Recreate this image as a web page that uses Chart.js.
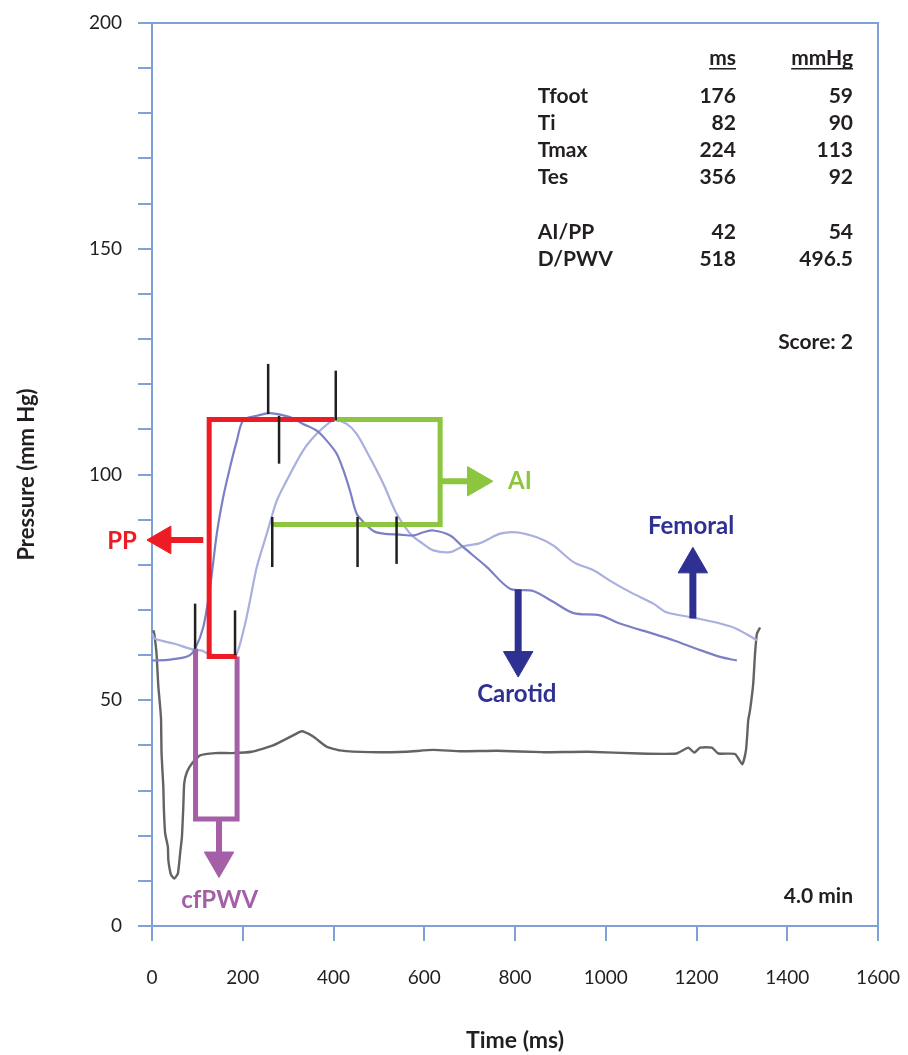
<!DOCTYPE html>
<html><head><meta charset="utf-8">
<script src="https://cdn.jsdelivr.net/npm/chart.js@4.4.1/dist/chart.umd.min.js"></script>
<style>html,body{margin:0;padding:0;background:#fff}#wrap{width:908px;height:1055px}</style>
</head><body><div id="wrap"><canvas id="c" width="908" height="1055"></canvas></div>
<script>
// ---------- data (ms, mmHg) ----------
const carotidTime = [0,40,80,95,113,128,143,157,172,187,201,231,260,304,333,363,385,407,422,436,451,466,488,510,547,576,598,620,657,686,738,789,840,884,929,987,1031,1105,1149,1200,1252,1289];
const carotidPressure = [58.8,59.0,59.8,61.4,66.2,75,87,95,101.6,107.5,112,113,113.6,112.7,111.2,109.7,107.5,104.6,100.9,96.5,91.3,89.5,87.5,86.9,86.7,86.5,87.2,87.6,86.5,83.9,79.5,74.7,74.2,71.8,69.3,68.8,67.0,64.7,63.3,61.4,59.6,58.8];

const femoralTime = [0,7,50,91,110,124,160,183,203,216,231,253,275,297,333,363,392,403,429,451,480,510,539,569,598,620,657,686,723,767,804,848,884,929,973,1009,1053,1105,1134,1193,1252,1289,1333];
const femoralPressure = [64.8,63.6,62.5,61.2,61.0,60.3,59.8,59.6,66.0,72.1,79.5,86.9,94.2,98.7,105.3,109,111.6,112.1,111.2,109,103.8,97.9,91.3,86.9,84.6,83.2,82.8,84.1,84.8,86.9,87.2,86.1,84.3,80.6,78.8,76.5,74.0,71.4,69.5,68.3,67.0,65.8,63.3];

const traceTime = [3,5,10,14,18,20,21,25,26,29,35,36,42,49,57,62,66,69,71,77,88,106,139,176,220,267,326,333,356,385,414,480,560,620,680,760,860,960,1075,1156,1182,1195,1208,1234,1248,1285,1301,1309,1312,1314,1318,1325,1329,1333,1340];
const tracePressure = [65.5,64.7,60.3,53,48.5,45.6,38.2,30.8,26.4,20.5,17.5,14.6,11.3,10.5,11.6,16.1,19.8,26.4,31.6,34.1,36,37.8,38.3,38.3,38.6,40,43,43.1,41.9,39.7,38.9,38.5,38.6,39.0,38.7,38.8,38.5,38.6,38.2,38.2,39.5,38.4,39.5,39.5,38.2,38.1,35.8,38.9,42.6,45.6,47.8,53.7,60.3,64.7,66.1];

// timing markers (short vertical bars)
const markerTime = [95,183,256,280,405,265,453,539];
const markerLow  = [61.4,60.0,113.4,102.4,112.0,79.5,79.5,80.2];
const markerHigh = [71.4,69.9,124.5,113.0,123.0,90.6,90.6,90.7];

// brackets
const ppBracketTime = [402,126,126,187];
const ppBracketPressure = [112.2,112.2,59.7,59.7];
const aiBracketTime = [407,635,635,266];
const aiBracketPressure = [112.2,112.2,88.9,88.9];
const pwvBracketTime = [96,96,187.5,187.5];
const pwvBracketPressure = [61.4,23.7,23.7,59.7];

// arrows: shaft start and head centre
const arrowNames = ['PP','AI','cfPWV','Carotid','Femoral'];
const arrowStartTime = [113,635,147.7,807,1192];
const arrowStartPressure = [85.5,98.5,23.7,74.6,68.1];
const arrowHeadTime = [24,714,147.7,807,1192];
const arrowHeadPressure = [85.5,98.5,14.5,58.9,80.1];

// annotation labels
const labelText = ['PP','AI','Carotid','Femoral','cfPWV'];
const labelTime = [-66,811,804,1188,149];
const labelPressure = [85.2,98.6,51.4,88.6,5.8];

// results table
const tableHeader = ['ms','mmHg'];
const tableLabels = ['Tfoot','Ti','Tmax','Tes','','AI/PP','D/PWV'];
const tableMs = ['176','82','224','356','','42','518'];
const tableMmHg = ['59','90','113','92','','54','496.5'];
const scoreText = 'Score: 2';
const durationText = '4.0 min';

const xTickStep = 200, yTickStep = 10, yLabelStep = 50;

// ---------- styles ----------
const AXIS = '#80a0d8';
const TXT = '#231f20';
const FONT = 'Lato, "Open Sans", sans-serif';
const C = {carotid:'#7b80c5', femoral:'#a9afde', trace:'#626365', red:'#ed1c24', green:'#8cc63f', purple:'#a55fa7', navy:'#2e3192', mark:'#231f20'};
const arrowStyle = {
  PP:{color:C.red,rot:270,w:6,r:16},
  AI:{color:C.green,rot:90,w:6,r:17},
  cfPWV:{color:C.purple,rot:180,w:6,r:17},
  Carotid:{color:C.navy,rot:180,w:7,r:17},
  Femoral:{color:C.navy,rot:0,w:7,r:17}
};
const labelColor = {PP:C.red,AI:C.green,Carotid:C.navy,Femoral:C.navy,cfPWV:C.purple};

const pts = (xs, ys) => xs.map((x,i)=>({x, y: ys[i]}));
const lineDs = (data, color, w, extra) => Object.assign({data, showLine:true, borderColor:color, backgroundColor:color, borderWidth:w, pointRadius:0, clip:false, borderCapStyle:'butt', borderJoinStyle:'miter', tension:0}, extra||{});

const datasets = [];
markerTime.forEach((t,i)=>datasets.push(lineDs([{x:t,y:markerLow[i]},{x:t,y:markerHigh[i]}], C.mark, 2.5)));
arrowNames.forEach((n,i)=>{
  const s = arrowStyle[n];
  datasets.push({data:[{x:arrowHeadTime[i],y:arrowHeadPressure[i]}], showLine:false, pointStyle:'triangle', pointRotation:s.rot, pointRadius:s.r, pointBackgroundColor:s.color, pointBorderColor:s.color, pointBorderWidth:1, clip:false});
  datasets.push(lineDs([{x:arrowStartTime[i],y:arrowStartPressure[i]},{x:arrowHeadTime[i],y:arrowHeadPressure[i]}], s.color, s.w));
});
datasets.push(lineDs(pts(ppBracketTime, ppBracketPressure), C.red, 5));
datasets.push(lineDs(pts(aiBracketTime, aiBracketPressure), C.green, 5));
datasets.push(lineDs(pts(pwvBracketTime, pwvBracketPressure), C.purple, 5));
datasets.push(lineDs(pts(carotidTime, carotidPressure), C.carotid, 2.2, {tension:0.3, borderJoinStyle:'round'}));
datasets.push(lineDs(pts(femoralTime, femoralPressure), C.femoral, 2.2, {tension:0.3, borderJoinStyle:'round'}));
datasets.push(lineDs(pts(traceTime, tracePressure), C.trace, 2.4, {tension:0.15, borderJoinStyle:'round'}));

const overlay = {
  id:'overlay',
  afterDraw(chart){
    const {ctx, chartArea:a, scales:{x,y}} = chart;
    ctx.save();
    ctx.strokeStyle = AXIS; ctx.lineWidth = 2;
    ctx.beginPath(); ctx.moveTo(a.left, a.top); ctx.lineTo(a.right, a.top); ctx.lineTo(a.right, a.bottom); ctx.stroke();
    // annotation labels
    ctx.textBaseline = 'middle'; ctx.textAlign = 'center';
    ctx.font = 'bold 24px ' + FONT;
    labelText.forEach((t,i)=>{ ctx.fillStyle = labelColor[t]; ctx.fillText(t, x.getPixelForValue(labelTime[i]), y.getPixelForValue(labelPressure[i])); });
    // table
    ctx.fillStyle = TXT; ctx.font = 'bold 21px ' + FONT;
    const colL = x.getPixelForValue(850), colMs = x.getPixelForValue(1287), colMm = x.getPixelForValue(1545);
    const headY = a.top + 35, rowY0 = a.top + 73, rowH = 27.2;
    ctx.textAlign = 'right';
    [[tableHeader[0],colMs],[tableHeader[1],colMm]].forEach(([t,cx])=>{
      ctx.fillText(t, cx, headY);
      const w = ctx.measureText(t).width;
      ctx.fillRect(cx - w, headY + 10, w, 1.5);
    });
    tableLabels.forEach((t,i)=>{
      const ry = rowY0 + i*rowH;
      ctx.textAlign = 'left'; ctx.fillText(t, colL, ry);
      ctx.textAlign = 'right'; ctx.fillText(tableMs[i], colMs, ry); ctx.fillText(tableMmHg[i], colMm, ry);
    });
    ctx.textAlign = 'right';
    ctx.fillText(scoreText, colMm, a.top + 319);
    ctx.fillText(durationText, colMm, a.bottom - 30);
    ctx.restore();
  }
};

new Chart(document.getElementById('c'), {
  type:'scatter',
  data:{datasets},
  options:{
    responsive:false, animation:false, events:[], devicePixelRatio:1,
    layout:{padding:{top:23,right:30,left:0,bottom:0}},
    plugins:{legend:{display:false}, tooltip:{enabled:false}},
    scales:{
      x:{type:'linear', min:0, max:1600,
        afterFit(s){ s.height = 129; s.paddingLeft = 0; s.paddingRight = 0; },
        border:{display:true,color:AXIS,width:2},
        grid:{display:true,drawOnChartArea:false,drawTicks:true,tickLength:15,color:AXIS,lineWidth:2},
        ticks:{stepSize:xTickStep,padding:25,maxRotation:0,autoSkip:false,color:TXT,font:{family:FONT,size:19},callback:v=>String(v)},
        title:{display:true,text:'Time (ms)',color:TXT,font:{family:FONT,size:23,weight:'bold'},padding:{top:4,bottom:1}}
      },
      y:{type:'linear', min:0, max:200,
        afterFit(s){ s.width = 152; s.paddingTop = 0; s.paddingBottom = 0; },
        border:{display:true,color:AXIS,width:2},
        grid:{display:true,drawOnChartArea:false,drawTicks:true,tickLength:14,color:AXIS,lineWidth:2},
        ticks:{stepSize:yTickStep,padding:16,autoSkip:false,color:TXT,font:{family:FONT,size:19},callback:v=> (v % yLabelStep === 0 ? String(v) : '')},
        title:{display:true,text:'Pressure (mm Hg)',color:TXT,font:{family:FONT,size:22,weight:'bold'},padding:{top:14,bottom:0}}
      }
    }
  },
  plugins:[overlay]
});
</script></body></html>
